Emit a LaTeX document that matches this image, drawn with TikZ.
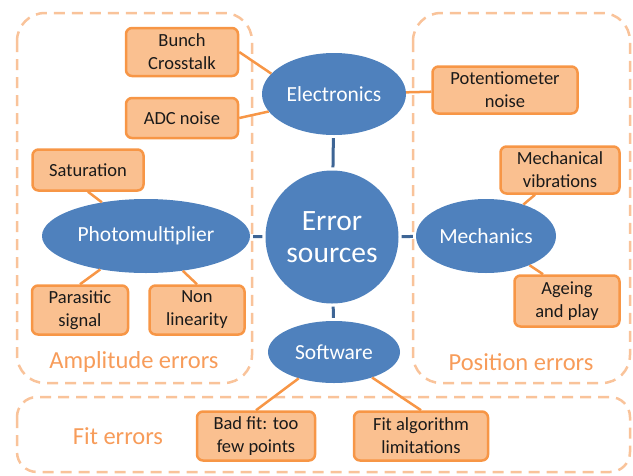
\documentclass[tikz,border=0pt]{standalone}
\usepackage{fontspec}
\setmainfont{Carlito}
\usepackage[HTML]{xcolor}
\usepackage{tikz}
\usetikzlibrary{positioning, shapes.geometric}

\definecolor{causeblue}{HTML}{4F81BD}
\definecolor{linkblue}{HTML}{3E6595}
\definecolor{leaffill}{HTML}{FAC090}
\definecolor{leafline}{HTML}{F79646}
\definecolor{groupline}{HTML}{F9C39A}
\definecolor{grouptext}{HTML}{F79C5A}

\begin{document}
\begin{tikzpicture}[x=1pt,y=-1pt,
  group/.style={draw=groupline, line width=2.5pt, dash pattern=on 11pt off 7pt},
  grouptitle/.style={text=grouptext, font=\fontsize{24.5}{28}\selectfont},
  cause/.style={ellipse, fill=causeblue, text=white, inner sep=0pt,
    font=\fontsize{21.5}{25}\selectfont},
  leaf/.style={draw=leafline, fill=leaffill, line width=2.5pt, rounded corners=6pt,
    align=center, inner sep=0pt, text=black!90, font=\fontsize{18.5}{23}\selectfont},
  tie/.style={draw=linkblue, line width=3pt, shorten <=3pt, shorten >=3pt},
  twig/.style={draw=leafline, line width=2.5pt}]
\useasboundingbox (0,0) rectangle (633,475);

% groups
\draw[group, rounded corners=28pt] (17,13) rectangle (252,383);
\draw[group, rounded corners=28pt] (413,13) rectangle (630,383);
\draw[group, rounded corners=20pt] (17,397) rectangle (630,472);
\node[grouptitle] (amptitle) at (134,362) {Amplitude errors};
\node[grouptitle] (postitle) at (521,362) {Position errors};
\node[grouptitle] (fittitle) at (118,436) {Fit errors};

% centre and causes
\node[cause, minimum width=133, minimum height=133, align=center,
  font=\fontsize{29.5}{32}\selectfont] (err) at (332,237) {Error\\sources};
\node[cause, minimum width=144, minimum height=82] (elec) at (334,94) {Electronics};
\node[cause, minimum width=208, minimum height=74] (pmt) at (146,236) {Photomultiplier};
\node[cause, minimum width=140, minimum height=74] (mech) at (486,236) {Mechanics};
\node[cause, minimum width=132, minimum height=62] (soft) at (334,352) {Software};

\draw[tie] (elec) -- (err);
\draw[tie] (pmt) -- (err);
\draw[tie] (mech) -- (err);
\draw[tie] (soft) -- (err);

% electronics
\node[leaf, minimum width=112, minimum height=48] (cross) at (182,52) {Bunch\\Crosstalk};
\node[leaf, minimum width=112, minimum height=40] (adc) at (182,118) {ADC noise};
\node[leaf, minimum width=145, minimum height=47] (pot) at (505,90) {Potentiometer\\noise};
\draw[twig] (cross.east) -- (elec.162);
\draw[twig] (adc.east) -- (elec.195);
\draw[twig] (elec) -- (pot);

% photomultiplier
\node[leaf, minimum width=111, minimum height=41] (sat) at (88,170) {Saturation};
\node[leaf, minimum width=96, minimum height=49] (para) at (80,310) {Parasitic\\signal};
\node[leaf, minimum width=95, minimum height=49] (nonlin) at (197,310) {Non\\linearity};
\draw[twig] (sat.south) -- (pmt);
\draw[twig] (para.north) -- (pmt);
\draw[twig] (nonlin.north) -- (pmt);

% mechanics
\node[leaf, minimum width=119, minimum height=47] (vib) at (560,170) {Mechanical\\vibrations};
\node[leaf, minimum width=105, minimum height=51] (age) at (567,301) {Ageing\\and play};
\draw[twig] ([xshift=-25pt]vib.south) -- (mech);
\draw[twig] ([xshift=-24pt]age.north) -- (mech);

% software
\node[leaf, minimum width=118, minimum height=49] (badfit) at (256,436) {Bad fit: too\\few points};
\node[leaf, minimum width=134, minimum height=49] (algo) at (421,436) {Fit algorithm\\limitations};
\draw[twig] (badfit.north) -- (soft);
\draw[twig] (algo.north) -- (soft);
\end{tikzpicture}
\end{document}
